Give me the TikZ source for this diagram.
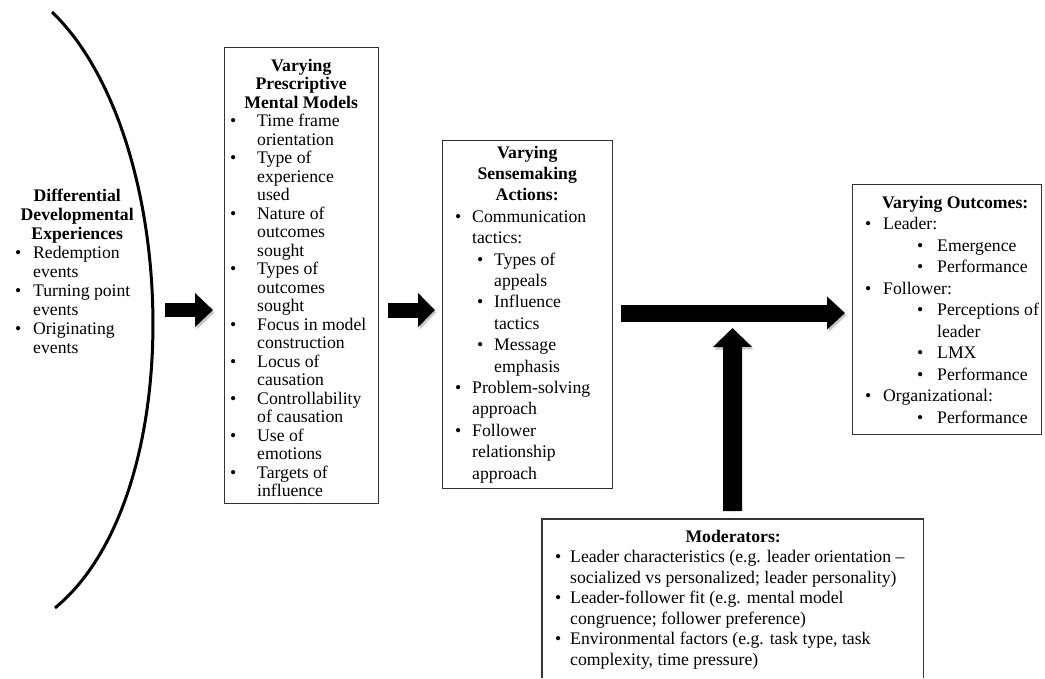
\documentclass[tikz,border=0pt]{standalone}
\usepackage{fontspec}
\setmainfont{Liberation Serif}
\usetikzlibrary{arrows.meta,calc}
\newcommand\bul[1]{\makebox[#1][l]{\textbullet}}
\newcommand\ind[1]{\hspace*{#1}}
\newcommand\ttl[2]{\makebox[#1][c]{\bfseries #2}}
\begin{document}
\begin{tikzpicture}[x=1pt,y=-1pt,
  frame/.style={draw=black!80, line width=1.3pt, inner sep=0pt, fill=none},
  txt/.style={anchor=north west, inner sep=0pt, align=left, font=\fontsize{17.7}{#1}\selectfont},
  barrow/.style={line width=#1, draw=black,
    preaction={draw=black!22, transform canvas={shift={(1.5pt,-2.5pt)}}}},
]
\useasboundingbox[fill=white] (0,0) rectangle (1045,678);

% left curve
\coordinate (ct) at (52,12);
\coordinate (cb) at (55,608);
\coordinate (lc) at (152,310);
\draw[line width=3pt] (ct) .. controls (180,135) and (192,495) .. (cb);

\node[txt=19] (diff) at (15,187.7) {%
\ttl{124pt}{\strut Differential}\\
\ttl{124pt}{Developmental}\\
\ttl{124pt}{Experiences}\\
\bul{18pt}Redemption\\
\ind{18pt}events\\
\bul{18pt}Turning point\\
\ind{18pt}events\\
\bul{18pt}Originating\\
\ind{18pt}events};

% box 2
\node[frame, anchor=north west, minimum width=154pt, minimum height=456pt] (b2) at (224,47) {};
\node[txt=18.5] (b2t) at (230,58) {%
\ttl{142pt}{\strut Varying}\\
\ttl{142pt}{Prescriptive}\\
\ttl{142pt}{Mental Models}\\
\bul{27pt}Time frame\\
\ind{27pt}orientation\\
\bul{27pt}Type of\\
\ind{27pt}experience\\
\ind{27pt}used\\
\bul{27pt}Nature of\\
\ind{27pt}outcomes\\
\ind{27pt}sought\\
\bul{27pt}Types of\\
\ind{27pt}outcomes\\
\ind{27pt}sought\\
\bul{27pt}Focus in model\\
\ind{27pt}construction\\
\bul{27pt}Locus of\\
\ind{27pt}causation\\
\bul{27pt}Controllability\\
\ind{27pt}of causation\\
\bul{27pt}Use of\\
\ind{27pt}emotions\\
\bul{27pt}Targets of\\
\ind{27pt}influence};

% box 3
\node[frame, anchor=north west, minimum width=170pt, minimum height=348pt] (b3) at (442,140) {};
\node[txt=21.4] (b3t) at (455,143) {%
\ttl{144pt}{\strut Varying}\\
\ttl{144pt}{Sensemaking}\\
\ttl{144pt}{Actions:}\\
\bul{17pt}Communication\\
\ind{17pt}tactics:\\
\ind{22pt}\bul{17pt}Types of\\
\ind{39pt}appeals\\
\ind{22pt}\bul{17pt}Influence\\
\ind{39pt}tactics\\
\ind{22pt}\bul{17pt}Message\\
\ind{39pt}emphasis\\
\bul{17pt}Problem-solving\\
\ind{17pt}approach\\
\bul{17pt}Follower\\
\ind{17pt}relationship\\
\ind{17pt}approach};

% box 4
\node[frame, anchor=north west, minimum width=189pt, minimum height=250pt] (b4) at (852,184) {};
\node[txt=21.5] (b4t) at (865,193) {%
\ttl{180pt}{\strut Varying Outcomes:}\\
\bul{18pt}Leader:\\
\ind{52pt}\bul{20pt}Emergence\\
\ind{52pt}\bul{20pt}Performance\\
\bul{18pt}Follower:\\
\ind{52pt}\bul{20pt}Perceptions of\\
\ind{72pt}leader\\
\ind{52pt}\bul{20pt}LMX\\
\ind{52pt}\bul{20pt}Performance\\
\bul{18pt}Organizational:\\
\ind{52pt}\bul{20pt}Performance};

% box 5 (moderators), cut by the lower edge
\node[anchor=north west, minimum width=381pt, minimum height=159pt, inner sep=0pt] (b5) at (542,519) {};
\draw[draw=black!80, line width=1.3pt] (b5.south west) -- (b5.north west) -- (b5.north east) -- (b5.south east);
\node[txt=20.5] (b5t) at (555,527.6) {%
\ttl{356pt}{\strut Moderators:}\\
\bul{15pt}Leader characteristics (e.g. leader orientation –\\
\ind{15pt}socialized vs personalized; leader personality)\\
\bul{15pt}Leader-follower fit (e.g. mental model\\
\ind{15pt}congruence; follower preference)\\
\bul{15pt}Environmental factors (e.g. task type, task\\
\ind{15pt}complexity, time pressure)};

% block arrows
\coordinate (m) at (732.5,313);
\draw[barrow=14pt, -{Triangle[length=18pt,width=33pt]}, shorten <=13pt, shorten >=11pt] (lc) -- (b2.west |- lc);
\draw[barrow=15pt, -{Triangle[length=17pt,width=33pt]}, shorten <=9pt, shorten >=7pt] (b2.east |- lc) -- (b3.west |- lc);
\draw[barrow=17pt, -{Triangle[length=18pt,width=32pt]}, shorten <=8pt, shorten >=7pt] (b3.east |- m) -- (b4.west |- m);
\draw[barrow=19pt, -{Triangle[length=19pt,width=38pt]}, shorten <=8pt, shorten >=15pt] (b5.north) -- (m);
\end{tikzpicture}
\end{document}
